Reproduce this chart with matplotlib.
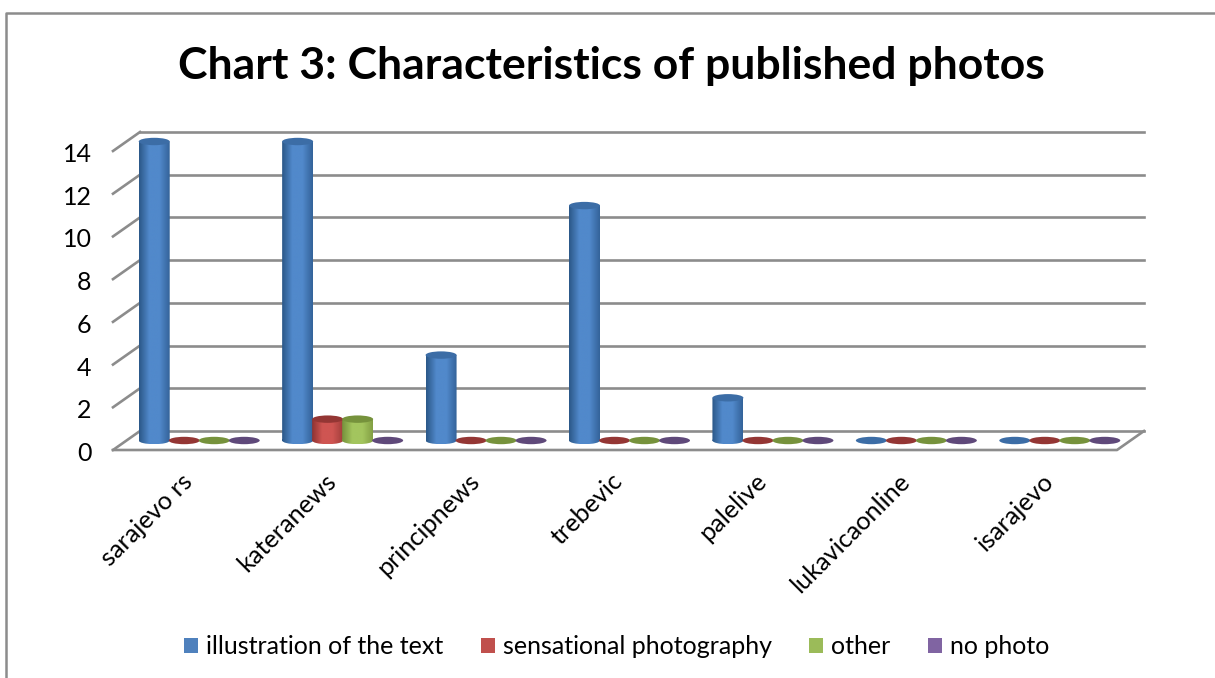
# PACKAGES
import numpy as np
import matplotlib
matplotlib.use('Agg')
import matplotlib.pyplot as plt
from matplotlib.lines import Line2D
from matplotlib.patches import Ellipse, Patch, PathPatch
from matplotlib.path import Path
from matplotlib.colors import LinearSegmentedColormap
from matplotlib.transforms import Affine2D, ScaledTranslation

plt.rcParams['font.family'] = ['Lato', 'DejaVu Sans']

# DATA
categories = ['sarajevo rs', 'kateranews', 'principnews', 'trebevic', 'palelive', 'lukavicaonline', 'isarajevo']
illustration = [14, 14, 4, 11, 2, 0, 0]
sensational = [0, 1, 0, 0, 0, 0, 0]
other = [0, 1, 0, 0, 0, 0, 0]
no_photo = [0, 0, 0, 0, 0, 0, 0]
series_names = ['illustration of the text', 'sensational photography', 'other', 'no photo']
y_ticks = [0, 2, 4, 6, 8, 10, 12, 14]

# STYLES: left, middle, right of the cylinder, then top colour
shades = [('#2b5888', '#5189cb', '#34639a', '#3c6da6'),
          ('#8f3331', '#cf5552', '#a33f3c', '#943634'),
          ('#76913c', '#a3c55e', '#83a044', '#76923c'),
          ('#5d467a', '#8668aa', '#67507f', '#5f497a')]
legend_colors = ['#4f81bd', '#c0504d', '#9bbb59', '#8064a2']
grid_color = '#8c8c8c'

W, H = 1215, 678
fig = plt.figure(figsize=(W/100, H/100), dpi=100)
ax = fig.add_axes([113/W, 1-450/H, 1004/W, 299/H])
ax.set_facecolor('none')

depth_x = 27/143.43
depth_y = 19/21.36
step = 30/143.43
bar_w = 31/143.43
nudge = 1/143.43
rx = bar_w/2
ry = 3.7/21.36


def cylinder(x, value, colors):
    left, mid, right, top_c = colors
    y0 = depth_y/2
    if value == 0:
        ax.add_patch(Ellipse((x, y0), bar_w, 2*ry, fc=top_c, ec='none', clip_on=False, zorder=4))
        return
    cmap = LinearSegmentedColormap.from_list('cyl', [left, mid, mid, right])
    im = ax.imshow(np.linspace(0, 1, 64).reshape(1, -1), cmap=cmap, aspect='auto', zorder=4,
                   extent=(x-rx, x+rx, y0-ry, y0+value), interpolation='bilinear')
    body = Path.make_compound_path(
        Path([(x-rx, y0), (x+rx, y0), (x+rx, y0+value), (x-rx, y0+value), (x-rx, y0)], closed=True),
        Path.unit_circle().transformed(Affine2D().scale(rx, ry).translate(x, y0)))
    im.set_clip_box(fig.bbox)
    im.set_clip_path(PathPatch(body, transform=ax.transData))
    ax.add_patch(Ellipse((x, y0+value), bar_w, 2*ry, fc=top_c, ec='none', clip_on=False, zorder=5))


# PLOTTING
# back wall lines and the little diagonals from the axis
for v in y_ticks:
    ax.plot([-0.5, -0.5+depth_x], [v, v+depth_y], color=grid_color, lw=1.9, clip_on=False, zorder=1)
    ax.plot([-0.5+depth_x, 6.5+depth_x], [v+depth_y, v+depth_y], color=grid_color, lw=1.9, clip_on=False, zorder=1)
# floor
ax.plot([-0.5, 6.5, 6.5+depth_x], [0, 0, depth_y], color=grid_color, lw=1.9, clip_on=False, zorder=1)

all_series = [illustration, sensational, other, no_photo]
for i in range(len(categories)):
    for k, values in enumerate(all_series):
        x = i - 1.5*step + k*step + depth_x/2 + nudge
        cylinder(x, values[i], shades[k])

ax.set_xlim(-0.5, 6.5)
ax.set_ylim(0, 14)
ax.set_yticks(y_ticks)
ax.set_xticks(range(len(categories)))
ax.set_xticklabels(categories, rotation=45, ha='right', rotation_mode='anchor', fontsize=18.2)
ax.tick_params(axis='x', length=0, pad=14)
ax.tick_params(axis='y', length=0, pad=15.5, labelsize=18)
for lab in ax.get_xticklabels():
    lab.set_transform(lab.get_transform() + ScaledTranslation(-4/100, 0, fig.dpi_scale_trans))
for lab in ax.get_yticklabels():
    lab.set_transform(lab.get_transform() + ScaledTranslation(0, -1.5/100, fig.dpi_scale_trans))
for s in ax.spines.values():
    s.set_visible(False)

fig.text(611/W, 1-66/H, 'Chart 3: Characteristics of published photos', ha='center', va='center',
         fontsize=32, fontweight='bold')

handles = [Patch(fc=c, ec='none') for c in legend_colors]
fig.legend(handles, series_names, loc='center', bbox_to_anchor=(616.5/W, 1-647/H), ncols=4, frameon=False,
           fontsize=18, handlelength=0.56, handleheight=0.56, handletextpad=0.32, columnspacing=1.5)

# outer frame of the chart
frame = dict(color='#8c8c8c', lw=1.8, transform=fig.transFigure)
fig.add_artist(Line2D([6/W, 6/W, 1], [0, 1-13/H, 1-13/H], **frame))

plt.savefig('out.png', dpi=100)
